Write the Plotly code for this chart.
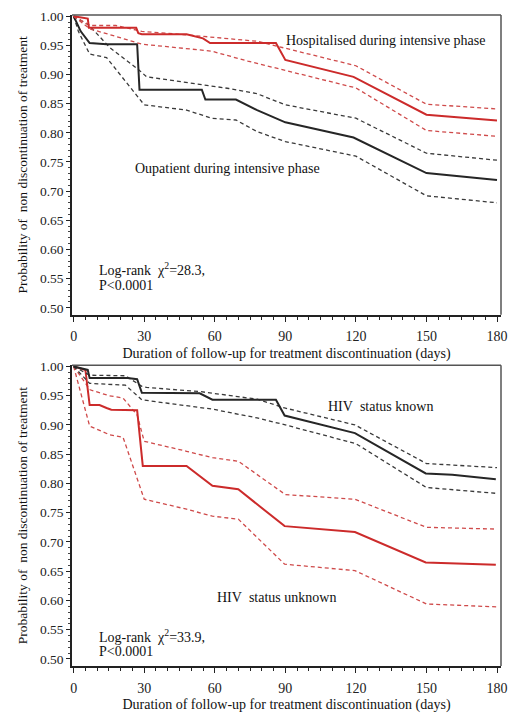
import plotly.graph_objects as go

# ---------------- Data (top panel: hospitalisation during intensive phase) ----------------
hosp_x = [0, 6, 6.5, 26.6, 27.5, 29, 48, 55, 58, 86, 90, 119, 150, 180]
hosp_y = [1.0, 0.996, 0.980, 0.980, 0.971, 0.969, 0.969, 0.962, 0.954, 0.954, 0.925, 0.896, 0.831, 0.821]
hosp_up_x = [0, 7, 18, 20, 29, 47.7, 78, 90, 120, 150, 180]
hosp_up_y = [1.0, 0.984, 0.984, 0.982, 0.974, 0.968, 0.957, 0.945, 0.915, 0.849, 0.841]
hosp_lo_x = [0, 7, 14, 29, 58.7, 74, 120, 150, 180]
hosp_lo_y = [1.0, 0.978, 0.970, 0.952, 0.940, 0.923, 0.877, 0.804, 0.794]

outp_x = [0, 3, 6.8, 14, 27, 28, 54.5, 56, 69, 78, 90, 119, 150, 180]
outp_y = [1.0, 0.974, 0.954, 0.952, 0.952, 0.874, 0.874, 0.857, 0.857, 0.839, 0.818, 0.792, 0.731, 0.719]
outp_up_x = [0, 6.4, 15.4, 28, 31, 47.7, 66, 78, 90, 120, 150, 180]
outp_up_y = [1.0, 0.985, 0.946, 0.907, 0.896, 0.887, 0.876, 0.867, 0.848, 0.825, 0.765, 0.753]
outp_lo_x = [0, 2, 6.8, 14, 30, 48, 58.7, 69, 78, 90, 120, 150, 180]
outp_lo_y = [1.0, 0.974, 0.935, 0.929, 0.848, 0.839, 0.825, 0.822, 0.802, 0.785, 0.760, 0.692, 0.680]

# ---------------- Data (bottom panel: HIV status) ----------------
known_x = [0, 6, 6.8, 23, 27, 29, 53.6, 59, 86, 89.7, 119.6, 149.7, 161, 179.5]
known_y = [1.0, 0.994, 0.980, 0.980, 0.978, 0.955, 0.954, 0.943, 0.943, 0.916, 0.886, 0.817, 0.815, 0.807]
known_up_x = [0, 6.8, 22, 29, 31, 53.7, 78, 89.7, 119.6, 150, 180]
known_up_y = [1.0, 0.985, 0.984, 0.966, 0.964, 0.957, 0.944, 0.929, 0.900, 0.834, 0.827]
known_lo_x = [0, 6.8, 22, 29, 40, 59, 78, 90, 120, 150, 180]
known_lo_y = [1.0, 0.971, 0.968, 0.943, 0.937, 0.927, 0.912, 0.900, 0.868, 0.793, 0.783]

unk_x = [0, 5, 6.8, 11, 14, 16, 27, 29.4, 48, 59, 70, 89.7, 119.6, 149.7, 179.5]
unk_y = [1.0, 0.994, 0.934, 0.934, 0.929, 0.926, 0.925, 0.830, 0.830, 0.796, 0.790, 0.727, 0.717, 0.665, 0.661]
unk_up_x = [0, 7, 15, 21, 27, 30, 48, 59, 70, 90, 119.6, 150, 180]
unk_up_y = [1.0, 0.960, 0.950, 0.946, 0.917, 0.872, 0.855, 0.844, 0.838, 0.781, 0.773, 0.725, 0.722]
unk_lo_x = [0, 6.8, 15.4, 21, 30, 48, 59, 70, 89.7, 119.6, 150, 180]
unk_lo_y = [1.0, 0.898, 0.883, 0.879, 0.773, 0.756, 0.744, 0.739, 0.662, 0.651, 0.594, 0.589]

x_ticks = [0, 30, 60, 90, 120, 150, 180]
y_ticks = [0.50, 0.55, 0.60, 0.65, 0.70, 0.75, 0.80, 0.85, 0.90, 0.95, 1.00]
x_minor = list(range(0, 181, 5))
y_minor = [round(0.50 + 0.01 * i, 2) for i in range(51)]

FONT = "Liberation Serif"
BLACK = "#262626"
BLACK_D = "#3a3a3a"
RED = "#cc2b2b"
RED_D = "#cf4a4a"

fig = go.Figure()

def add(x, y, color, dash, width, xa, ya):
    fig.add_trace(go.Scatter(x=x, y=y, mode="lines", xaxis=xa, yaxis=ya,
                             line=dict(color=color, width=width, dash=dash),
                             showlegend=False, hoverinfo="skip"))

# top panel
add(outp_up_x, outp_up_y, BLACK_D, "4px,3px", 1.3, "x", "y")
add(outp_lo_x, outp_lo_y, BLACK_D, "4px,3px", 1.3, "x", "y")
add(outp_x, outp_y, BLACK, "solid", 2, "x", "y")
add(hosp_up_x, hosp_up_y, RED_D, "4px,3px", 1.3, "x", "y")
add(hosp_lo_x, hosp_lo_y, RED_D, "4px,3px", 1.3, "x", "y")
add(hosp_x, hosp_y, RED, "solid", 2, "x", "y")

# bottom panel
add(unk_up_x, unk_up_y, RED_D, "4px,3px", 1.3, "x2", "y2")
add(unk_lo_x, unk_lo_y, RED_D, "4px,3px", 1.3, "x2", "y2")
add(unk_x, unk_y, RED, "solid", 2, "x2", "y2")
add(known_up_x, known_up_y, BLACK_D, "4px,3px", 1.3, "x2", "y2")
add(known_lo_x, known_lo_y, BLACK_D, "4px,3px", 1.3, "x2", "y2")
add(known_x, known_y, BLACK, "solid", 2, "x2", "y2")

xtitle = "Duration of follow-up for treatment discontinuation (days)"
ytitle = "Probability of\u00a0 non discontinuation of treatment"

def xaxis(anchor):
    return dict(domain=[0, 1], anchor=anchor, range=[-0.7, 181.7],
                tickmode="array", tickvals=x_ticks, ticks="outside", ticklen=5, tickwidth=1.2,
                tickcolor="#222", showline=True, linecolor="#222", linewidth=1.5,
                showgrid=False, zeroline=False, ticklabelstandoff=3,
                minor=dict(tickmode="array", tickvals=x_minor, ticks="outside", ticklen=3,
                           tickwidth=1, tickcolor="#222", showgrid=False),
                tickfont=dict(family=FONT, size=14, color="#222"),
                title=dict(text=xtitle, font=dict(family=FONT, size=14, color="#111"), standoff=5))

def yaxis(domain, anchor):
    return dict(domain=domain, anchor=anchor, range=[0.488, 1.002],
                tickmode="array", tickvals=y_ticks, tickformat=".2f", ticks="outside", ticklen=4,
                tickwidth=1.2, tickcolor="#222", showline=True, linecolor="#222", linewidth=1.5,
                showgrid=False, zeroline=False,
                minor=dict(tickmode="array", tickvals=y_minor, ticks="outside", ticklen=2,
                           tickwidth=1, tickcolor="#444", showgrid=False),
                tickfont=dict(family=FONT, size=13.5, color="#222"),
                title=dict(text=ytitle, font=dict(family=FONT, size=13.5, color="#111"), standoff=9))

fig.update_layout(
    width=516, height=719,
    margin=dict(l=72, r=9, t=14, b=47),
    paper_bgcolor="white", plot_bgcolor="white",
    xaxis=xaxis("y"),
    yaxis=yaxis([0.5395, 1.0], "x"),
    xaxis2=xaxis("y2"),
    yaxis2=yaxis([0.0, 0.462], "x2"),
)

# right and top frame lines
for xr, yr in (("x domain", "y domain"), ("x2 domain", "y2 domain")):
    fig.add_shape(type="line", xref=xr, yref=yr, x0=1, x1=1, y0=0, y1=1,
                  line=dict(color="#555", width=1.5))
    fig.add_shape(type="line", xref=xr, yref=yr, x0=0, x1=1, y0=1, y1=1,
                  line=dict(color="#555", width=1.5))

def note(text, x, y, xref, yref, anchor="center"):
    fig.add_annotation(text=text, x=x, y=y, xref=xref, yref=yref, showarrow=False,
                       xanchor=anchor, yanchor="middle",
                       font=dict(family=FONT, size=14, color="#111"))

note("Hospitalised during intensive phase", 132.7, 0.959, "x", "y")
note("Oupatient during intensive phase", 65.3, 0.738, "x", "y")
note("Log-rank  \u03c7<sup>2</sup>=28.3,", 9.9, 0.566, "x", "y", "left")
note("P<0.0001", 9.9, 0.539, "x", "y", "left")

note("HIV\u00a0 status known", 130.6, 0.932, "x2", "y2")
note("HIV\u00a0 status unknown", 86.2, 0.605, "x2", "y2")
note("Log-rank  \u03c7<sup>2</sup>=33.9,", 9.9, 0.540, "x2", "y2", "left")
note("P<0.0001", 9.9, 0.513, "x2", "y2", "left")

fig.write_html("out.html", config={"displayModeBar": False},
               post_script="document.body.style.margin='0';document.body.style.overflow='hidden';")
